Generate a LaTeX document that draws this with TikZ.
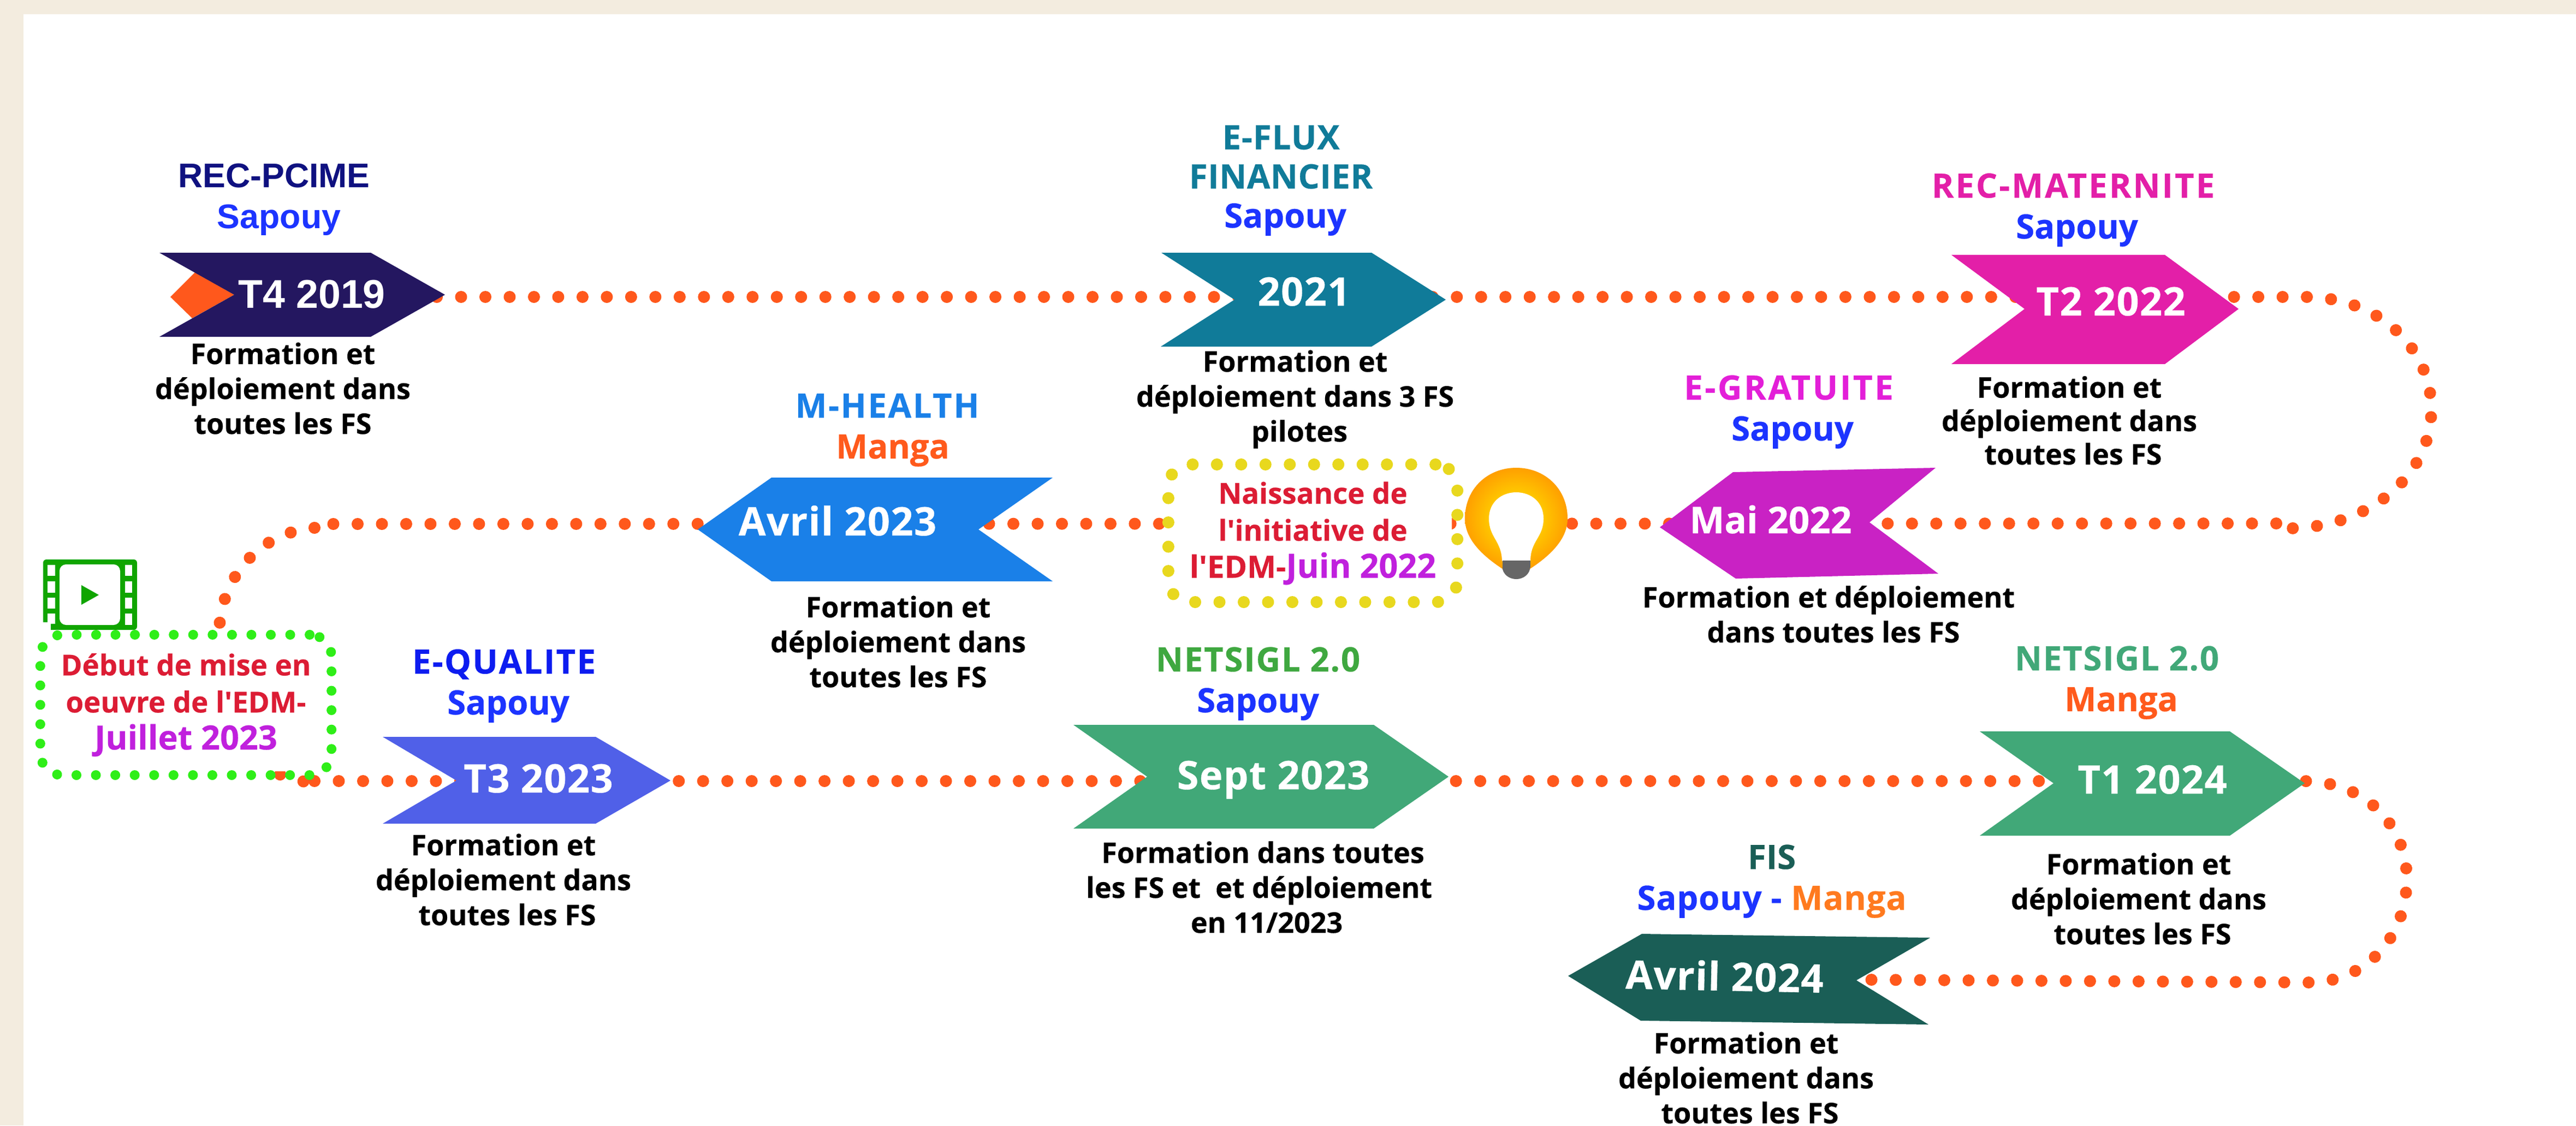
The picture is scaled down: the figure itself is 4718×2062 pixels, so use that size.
\documentclass[tikz,border=0pt]{standalone}
\usepackage{fontspec}
\setmainfont{Open Sans}[Ligatures=TeXOff,BoldFeatures={FakeBold=0.45}]
\newfontfamily\arialish{Liberation Sans}
\definecolor{frame}{HTML}{F3ECDF}
\definecolor{dotor}{HTML}{FF581C}
\definecolor{dotgr}{HTML}{2FEE18}
\definecolor{dotye}{HTML}{E8D81E}
\definecolor{film}{HTML}{10A500}
\definecolor{sapblue}{HTML}{1C34FF}
\definecolor{mangaor}{HTML}{FF5A1C}
\definecolor{mangaor2}{HTML}{FF7A1F}
\definecolor{rouge}{HTML}{DC1C34}
\definecolor{violet}{HTML}{C020DD}
\definecolor{cT}{HTML}{241760}
\definecolor{cF}{HTML}{107B99}
\definecolor{cM}{HTML}{E31FA8}
\definecolor{cG}{HTML}{C922C4}
\definecolor{cH}{HTML}{1A80E8}
\definecolor{cQ}{HTML}{5060E8}
\definecolor{cS}{HTML}{41A878}
\definecolor{cI}{HTML}{1A5E56}
\definecolor{tGrat}{HTML}{E31FD8}
\definecolor{tQual}{HTML}{0D1CF0}
\definecolor{tNet}{HTML}{3FA840}
\newcommand\chevpts[7]{%
  \coordinate (#1-tl) at (#2);\coordinate (#1-tr) at (#3);\coordinate (#1-tip) at (#4);%
  \coordinate (#1-br) at (#5);\coordinate (#1-bl) at (#6);\coordinate (#1-notch) at (#7);}
\newcommand\chevfill[2]{\fill[#2] (#1-tl) -- (#1-tr) -- (#1-tip) -- (#1-br) -- (#1-bl) -- (#1-notch) -- cycle;}
\newcommand\sh[1]{\hspace*{#1mm}}
\newcommand\capsp[3]{\textcolor{#2}{\addfontfeature{LetterSpace=#1}#3}}
\newcommand\vio[1]{\textcolor{violet}{\fontsize{17.4}{19.3}\selectfont #1}}
\tikzset{
  x=0.01cm,y=-0.01cm,
  dotline/.style={draw=dotor,line width=2.2mm,line cap=round,dash pattern=on 0.01pt off 4.442mm},
  dotboxg/.style={draw=dotgr,line width=1.8mm,line cap=round,dash pattern=on 0.01pt off 3.55mm,rounded corners=4mm,inner sep=0pt,outer sep=0pt,align=center,
     font=\fontsize{15}{19.3}\selectfont\bfseries,text=rouge},
  dotboxy/.style={draw=dotye,line width=2.2mm,line cap=round,dash pattern=on 0.01pt off 4.442mm,rounded corners=4mm,inner sep=0pt,outer sep=0pt,align=center,
     font=\fontsize{15}{19.3}\selectfont\bfseries,text=rouge},
  desc/.style={anchor=base,inner sep=0pt,align=center,text=black,font=\fontsize{14.8}{#1}\selectfont\bfseries},
  desc/.default=18.2,
  ttl/.style={anchor=base,inner sep=0pt,align=center,font=\fontsize{17.5}{#1}\selectfont\bfseries},
  ttl/.default=21.3,
  datet/.style={anchor=base,inner sep=0pt,text=white,font=\fontsize{20.5}{23}\selectfont\bfseries\addfontfeature{LetterSpace=2}},
}
\begin{document}
\begin{tikzpicture}
\useasboundingbox (0,0) rectangle (4718,2062);
\fill[white] (0,0) rectangle (4718,2062);
\fill[frame] (0,0) rectangle (4718,26);
\fill[frame] (0,0) rectangle (43,2062);
% anchor points of the arrow shapes
\chevpts{t4}{292,463}{679,463}{815,540}{679,617}{292,617}{429,540}
\chevpts{fl}{2127,463}{2512,463}{2648,549}{2512,635}{2126,635}{2261,549}
\chevpts{t2}{3574,467}{3965,467}{4100,566}{3965,667}{3574,667}{3708,566}
\chevpts{ma}{3174,865}{3545,857}{3424,957}{3550,1051}{3179,1060}{3040,966}
\chevpts{av}{1413,875}{1928,875}{1792,970}{1928,1065}{1413,1065}{1278,970}
\chevpts{t3}{701,1350}{1091,1350}{1228,1430}{1091,1509}{701,1509}{836,1430}
\chevpts{se}{1966,1328}{2516,1328}{2653,1423}{2516,1518}{1966,1518}{2101,1423}
\chevpts{t1}{3626,1340}{4084,1340}{4221,1435}{4084,1531}{3626,1531}{3761,1435}
\chevpts{fi}{3007,1711}{3535,1718}{3400,1796}{3532,1877}{3005,1870}{2872,1788}
% connector ends
\coordinate (aStart) at (800,544);
\coordinate (aTurn) at (4220,544);
\coordinate (aSide) at (4453,750);
\coordinate (aEnd) at (4189,968);
\coordinate (bStart) at (4169,959);
\coordinate (bEnd) at (570,960);
\coordinate (bCurve) at (576,967);
\coordinate (bBox) at (402,1146);
\coordinate (cOut) at (513,1419);
\coordinate (cOut2) at (557,1432);
\coordinate (cStart) at (576,1431);
\coordinate (cTurn) at (4216,1431);
\coordinate (cSide) at (4408,1610);
\coordinate (cLow) at (4229,1800);
\coordinate (cEnd) at (3425,1795);
% connectors
\draw[dotline] (aStart) -- (aTurn) .. controls (4360,544) and (4453,640) .. (aSide) .. controls (4453,870) and (4340,968) .. (aEnd);
\draw[dotline] (bStart) -- (bEnd);
\draw[dotline] (bCurve) .. controls (480,975) and (410,1050) .. (bBox);
\draw[dotline] (cOut) -- (cOut2);
\draw[dotline] (cStart) -- (cTurn) .. controls (4340,1431) and (4408,1520) .. (cSide) .. controls (4408,1720) and (4330,1800) .. (cLow) -- (cEnd);
% white behind the two dotted boxes
\fill[white,rounded corners=4mm] (82,1171) rectangle (599,1413);
\fill[white,rounded corners=4mm] (2150,861) rectangle (2659,1093);
% diamond and arrows
\fill[dotor] (357,499) -- (429,540) -- (352,583) -- (312,544) -- cycle;
\chevfill{t4}{cT}\chevfill{fl}{cF}\chevfill{t2}{cM}\chevfill{ma}{cG}\chevfill{av}{cH}\chevfill{t3}{cQ}\chevfill{se}{cS}\chevfill{t1}{cS}\chevfill{fi}{cI}
% dates
\node[datet,font=\arialish\fontsize{20.9}{23}\selectfont\bfseries] (dT4) at (571,564) {T4 2019};
\node[datet] (dFl) at (2388,560) {2021};
\node[datet] (dT2) at (3866,578) {T2 2022};
\node[datet,font=\fontsize{19.2}{23}\selectfont\bfseries] (dMa) at (3243,977) {Mai 2022};
\node[datet] (dAv) at (1534,981) {Avril 2023};
\node[datet] (dT3) at (986,1452) {T3 2023};
\node[datet] (dSe) at (2332,1446) {Sept 2023};
\node[datet] (dT1) at (3942,1454) {T1 2024};
\node[datet,rotate=-1.2] (dFi) at (3158,1815) {Avril 2024};
% titles
\node[ttl,font=\arialish\fontsize{17.8}{21.3}\selectfont\bfseries] (tPcime) at (502,418) {\textcolor[HTML]{0F1180}{REC-PCIME}\\\sh{1.8}\textcolor{sapblue}{Sapouy}};
\node[ttl=20.4] (tFlux) at (2346,417) {\capsp{1.7}{cF}{E-FLUX}\\\capsp{1}{cF}{FINANCIER}\\\sh{1.6}\textcolor{sapblue}{Sapouy}};
\node[ttl] (tMat) at (3797,437) {\capsp{5}{cM}{REC-MATERNITE}\\\sh{1.4}\textcolor{sapblue}{Sapouy}};
\node[ttl] (tGra) at (3276,807) {\capsp{6}{tGrat}{E-GRATUITE}\\\sh{1.4}\textcolor{sapblue}{Sapouy}};
\node[ttl] (tHea) at (1625,840) {\capsp{4.4}{cH}{M-HEALTH}\\\sh{2}\textcolor{mangaor}{Manga}};
\node[ttl] (tQua) at (923,1309) {\capsp{3.9}{tQual}{E-QUALITE}\\\sh{1.6}\textcolor{sapblue}{Sapouy}};
\node[ttl] (tSi1) at (2304,1305) {\capsp{3}{tNet}{NETSIGL 2.0}\\\textcolor{sapblue}{Sapouy}};
\node[ttl] (tSi2) at (3877,1303) {\capsp{3}{cS}{NETSIGL 2.0}\\\sh{1.6}\textcolor{mangaor}{Manga}};
\node[ttl] (tFis) at (3245,1667) {\textcolor{cI}{FIS}\\\addfontfeature{LetterSpace=1.5}\textcolor{sapblue}{Sapouy -} \textcolor{mangaor2}{Manga}};
% descriptions
\node[desc] (dsPcime) at (518,795) {Formation et\\déploiement dans\\toutes les FS};
\node[desc] (dsFlux) at (2372,809) {Formation et\\déploiement dans 3 FS\\\sh{1.6}pilotes};
\node[desc=17.4] (dsMat) at (3790,851) {Formation et\\déploiement dans\\\sh{1.4}toutes les FS};
\node[desc] (dsMai) at (3349,1177) {Formation et déploiement\\\sh{1.8}dans toutes les FS};
\node[desc] (dsHea) at (1645,1259) {Formation et\\déploiement dans\\toutes les FS};
\node[desc] (dsQua) at (922,1695) {Formation et\\déploiement dans\\\sh{1.4}toutes les FS};
\node[desc] (dsSi1) at (2306,1709) {\sh{1.4}Formation dans toutes\\les FS et\ \ et déploiement\\\sh{2.8}en 11/2023};
\node[desc] (dsSi2) at (3917,1730) {Formation et\\déploiement dans\\\sh{1.4}toutes les FS};
\node[desc] (dsFis) at (3198,2058) {Formation et\\déploiement dans\\\sh{1.4}toutes les FS};
% dotted text boxes
\node[dotboxg,minimum width=5.33cm,minimum height=2.57cm] (debut) at (340.5,1291.5) {Début de mise en\\oeuvre de l'EDM-\\\vio{Juillet 2023}};
\node[dotboxy,minimum width=5.29cm,minimum height=2.52cm] (naiss) at (2404.5,977) {Naissance de\\l'initiative de\\{\fontsize{16}{19.3}\selectfont l'EDM-}\vio{Juin 2022}};
% film icon
\fill[film,rounded corners=0.6mm] (79,1025) rectangle (251,1154);
\fill[white,rounded corners=1.2mm] (109,1034) rectangle (220,1145);
\foreach \ya/\yb in {1035/1055,1065/1086,1095/1115}{
  \fill[white] (87,\ya) rectangle (101,\yb);
  \fill[white] (229,\ya) rectangle (242,\yb);
}
\fill[white] (229,1124) rectangle (242,1145);
\fill[white] (87,1124) rectangle (101,1143);
\fill[white] (78,1140) rectangle (93,1155);
\fill[film,line join=round] (149,1072) -- (181,1090) -- (149,1108) -- cycle;
% bulb
\shade[shading=radial,inner color=yellow!90!orange,outer color=orange!75!yellow] (2753,1043) .. controls (2710,1015) and (2683,985) .. (2683,950) .. controls (2683,895) and (2725,857) .. (2777,857) .. controls (2829,857) and (2871,895) .. (2871,950) .. controls (2871,985) and (2844,1015) .. (2801,1043) -- cycle;
\fill[white] (2751,1028) .. controls (2750,990) and (2727,985) .. (2727,950) .. controls (2727,920) and (2750,902) .. (2777,902) .. controls (2804,902) and (2827,920) .. (2827,950) .. controls (2827,985) and (2803,990) .. (2803,1028) -- cycle;
\fill[gray!80!black] (2751.5,1027) rectangle (2802.5,1040);
\fill[gray!80!black] (2751.5,1039) .. controls (2752,1052) and (2764,1061) .. (2777,1061) .. controls (2790,1061) and (2802,1052) .. (2802.5,1039) -- cycle;
\end{tikzpicture}
\end{document}
